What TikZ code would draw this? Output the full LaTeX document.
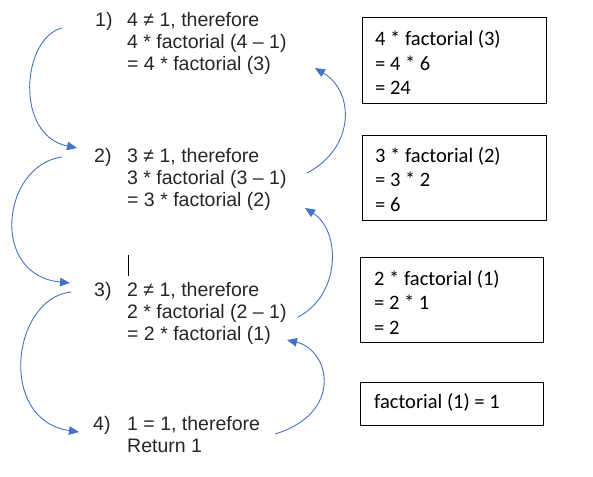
\documentclass[tikz,border=0pt]{standalone}
\usepackage{fontspec}
\setmainfont{Liberation Sans}
\newfontfamily\boxfont{Carlito}
\usetikzlibrary{arrows.meta}
\definecolor{arrowblue}{HTML}{4472C4}
\definecolor{txt}{HTML}{262626}
\tikzset{
  lefttext/.style={anchor=base west, inner sep=0pt, align=left, text=txt,
    font=\fontsize{19.5}{22}\selectfont},
  boxframe/.style={draw=black, line width=1pt, inner sep=0pt},
  boxtext/.style={anchor=base west, inner sep=0pt, align=left, text=black,
    font=\boxfont\fontsize{20.5}{24.5}\selectfont},
  curvearrow/.style={draw=arrowblue, line width=0.9pt,
    -{Triangle[length=10pt,width=8.5pt]}},
}
\begin{document}
\begin{tikzpicture}[x=1pt,y=-1pt]
\useasboundingbox (0,0) rectangle (593,476);
% left steps (multi-line nodes: base anchor = last baseline)
\node[lefttext] (n1) at (95,27) {1)};
\node[lefttext] (s1) at (127,71) {4 ≠ 1, therefore\\4 * factorial (4 – 1)\\= 4 * factorial (3)};
\node[lefttext] (n2) at (94,162) {2)};
\node[lefttext] (s2) at (127,206) {3 ≠ 1, therefore\\3 * factorial (3 – 1)\\= 3 * factorial (2)};
\node[lefttext] (n3) at (94,296) {3)};
\node[lefttext] (s3) at (127,340) {2 ≠ 1, therefore\\2 * factorial (2 – 1)\\= 2 * factorial (1)};
\node[lefttext] (n4) at (93,430) {4)};
\node[lefttext] (s4) at (127,452) {1 = 1, therefore\\Return 1};
% cursor
\draw[black, line width=1pt] (128,255) -- (128,276);
% boxes
\node[boxframe, minimum width=184, minimum height=85] (b1) at (454,60.5) {};
\node[boxtext] (t1) at (375,95) {4 * factorial (3)\\= 4 * 6\\= 24};
\node[boxframe, minimum width=184, minimum height=85] (b2) at (454,177.5) {};
\node[boxtext] (t2) at (375,211) {3 * factorial (2)\\= 3 * 2\\= 6};
\node[boxframe, minimum width=183, minimum height=85] (b3) at (451.5,299.5) {};
\node[boxtext] (t3) at (374,334) {2 * factorial (1)\\= 2 * 1\\= 2};
\node[boxframe, minimum width=183, minimum height=43] (b4) at (451.5,403.5) {};
\node[boxtext] (t4) at (374,408) {factorial (1) = 1};
% arrow end points
\coordinate (aS) at (62,28);   \coordinate (aE) at (77,148);
\coordinate (bS) at (62,157);  \coordinate (bE) at (70,283);
\coordinate (cS) at (71,292);  \coordinate (cE) at (79,432);
\coordinate (dS) at (307,173); \coordinate (dE) at (315,68);
\coordinate (eS) at (298,317); \coordinate (eE) at (305,208);
\coordinate (fS) at (275,434); \coordinate (fE) at (287,340);
% downward (recursive calls)
\draw[curvearrow] (aS) .. controls (22,38) and (14,135) .. (aE);
\draw[curvearrow] (bS) .. controls (2,165) and (-11,275) .. (bE);
\draw[curvearrow] (cS) .. controls (12,298) and (-3,420) .. (cE);
% upward (returns)
\draw[curvearrow] (dS) .. controls (355,148) and (355,92) .. (dE);
\draw[curvearrow] (eS) .. controls (341,295) and (341,231) .. (eE);
\draw[curvearrow] (fS) .. controls (344,413) and (330,350) .. (fE);
\end{tikzpicture}
\end{document}
